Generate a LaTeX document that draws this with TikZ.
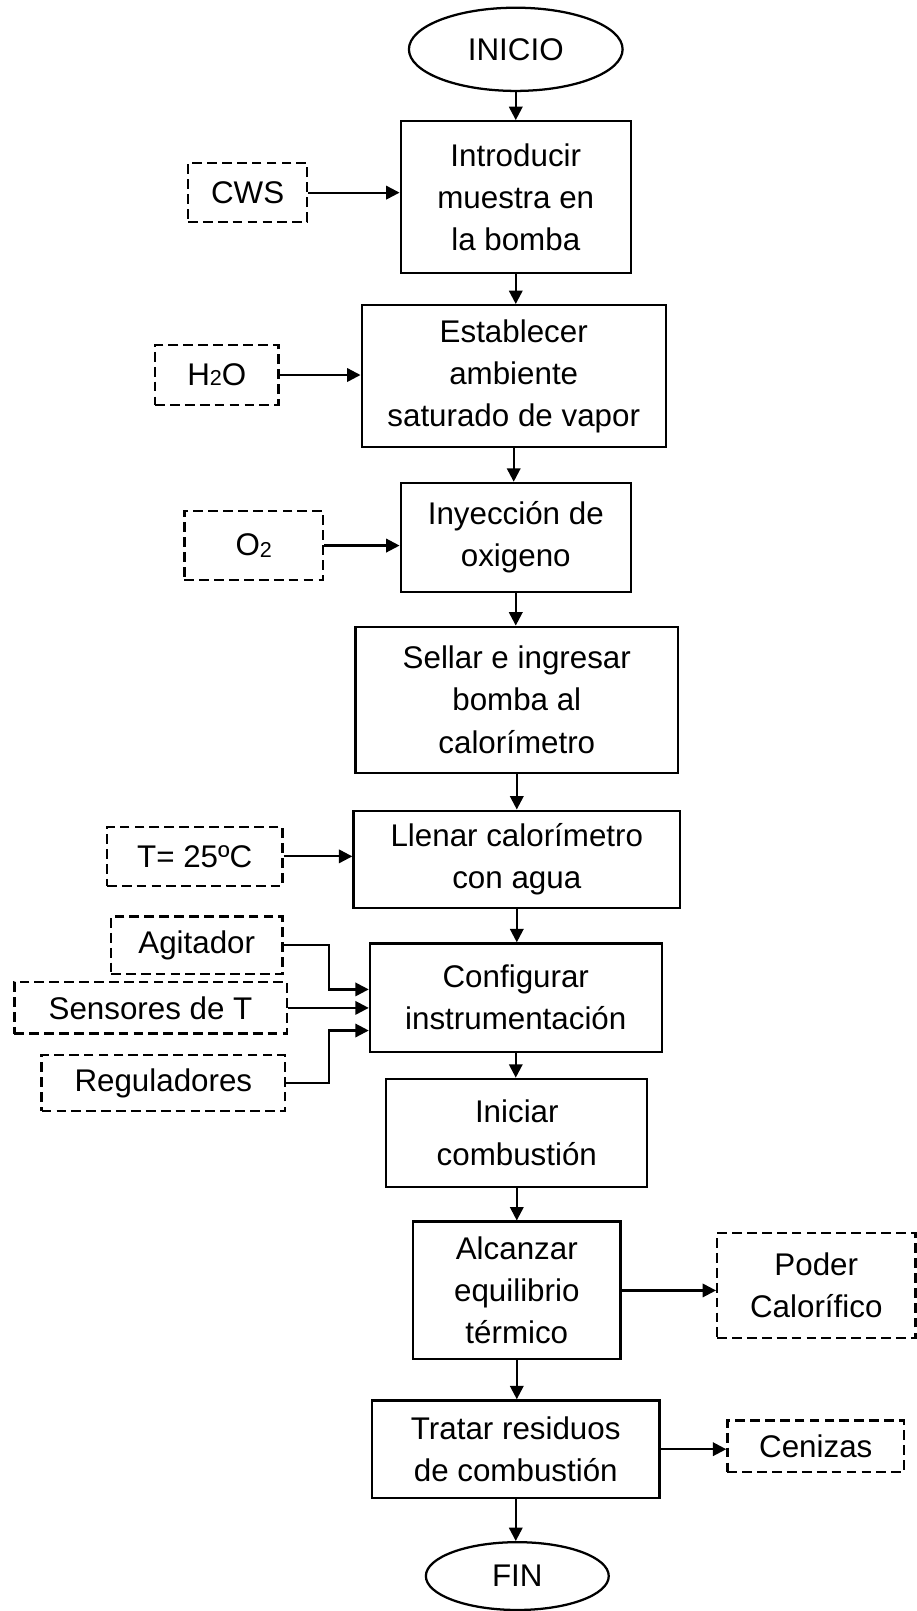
\documentclass[tikz,border=0pt]{standalone}
\usepackage{fontspec}
\setmainfont{Liberation Sans}
\usetikzlibrary{shapes.geometric,arrows.meta,calc}
\begin{document}
\begin{tikzpicture}[x=1pt,y=-1pt,
  every node/.style={font=\fontsize{30.5}{41}\selectfont, align=center,
    inner sep=0pt, line width=2.2pt},
  box/.style 2 args={draw, rectangle, minimum width=#1pt, minimum height=#2pt},
  inbox/.style 2 args={box={#1}{#2}, dash pattern=on 9.5pt off 5pt},
  term/.style 2 args={draw, ellipse, minimum width=#1pt, minimum height=#2pt},
  flow/.style={line width=2.2pt, -{Triangle[length=13pt,width=13pt]}}]
\useasboundingbox (0,0) rectangle (892,1568);

% main column
\node[term={208}{81}] (inicio) at (502,48) {INICIO};
\node[box={224}{148}] (b1) at (502,192) {Introducir\\muestra en\\la bomba};
\node[box={296}{138}] (b2) at (500,366) {Establecer\\ambiente\\saturado de vapor};
\node[box={224}{106}] (b3) at (502,523) {Inyección de\\oxigeno};
\node[box={314}{142}] (b4) at (503,681) {Sellar e ingresar\\bomba al\\calorímetro};
\node[box={318}{95}] (b5) at (503,836.5) {Llenar calorímetro\\con agua};
\node[box={284}{105.5}] (b6) at (502,971) {Configurar\\instrumentación};
\node[box={254}{105}] (b7) at (503,1102.5) {Iniciar\\combustión};
\node[box={202}{134}] (b8) at (503,1256) {Alcanzar\\equilibrio\\térmico};
\node[box={280}{95}] (b9) at (502,1410.5) {Tratar residuos\\de combustión};
\node[term={178}{66}] (fin) at (503.5,1534) {FIN};

% inputs and outputs
\node[inbox={116}{57}] (cws) at (241,187.5) {CWS};
\node[inbox={120}{58}] (h2o) at (211,365) {H{\fontsize{21}{21}\selectfont 2}O};
\node[inbox={135}{67}] (o2) at (247,531) {O\raisebox{-2pt}{\fontsize{21}{21}\selectfont 2}};
\node[inbox={171}{57}] (t25) at (189.5,833.5) {T= 25ºC};
\node[inbox={167}{56}] (agit) at (191.5,920) {Agitador};
\node[inbox={265}{50}] (sens) at (146.5,981) {Sensores de T};
\node[inbox={237}{55}] (regu) at (159,1054) {Reguladores};
\node[inbox={193}{102}] (poder) at (794.5,1251) {Poder\\Calorífico};
\node[inbox={172}{50}] (cen) at (794,1407.5) {Cenizas};

% sequence
\foreach \a/\b in {inicio/b1,b1/b2,b2/b3,b3/b4,b4/b5,b5/b6,b6/b7,b7/b8,b8/b9,b9/fin}
  \draw[flow] (\a.south) -- (\a.south |- \b.north);

% side arrows
\draw[flow] (cws.east) -- (cws.east -| b1.west);
\draw[flow] (h2o.east) -- (h2o.east -| b2.west);
\draw[flow] (o2.east) -- (o2.east -| b3.west);
\draw[flow] (t25.east) -- (t25.east -| b5.west);
\draw[flow] (agit.east) -- ++(44,0) |- ($(b6.west)+(0,-8)$);
\draw[flow] (sens.east) -- (sens.east -| b6.west);
\draw[flow] (regu.east) -- ++(41.5,0) |- ($(b6.west)+(0,32)$);
\draw[flow] (b8.east) -- (b8.east -| poder.west);
\draw[flow] (b9.east) -- (b9.east -| cen.west);
\end{tikzpicture}
\end{document}
